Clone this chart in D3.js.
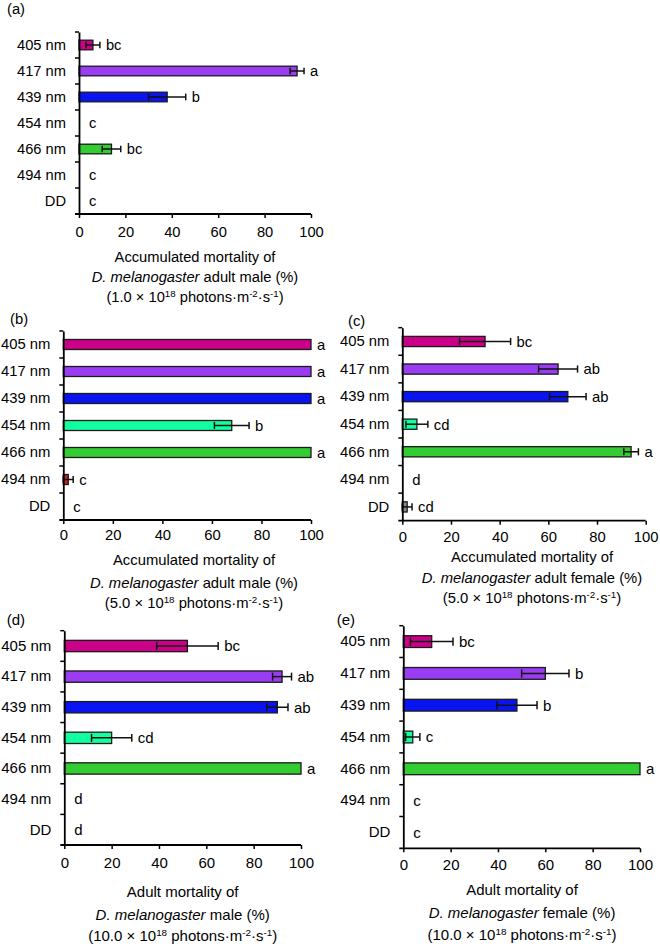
<!DOCTYPE html>
<html>
<head>
<meta charset="utf-8">
<script src="https://cdn.jsdelivr.net/npm/d3@7"></script>
<style>
  html, body { margin: 0; padding: 0; background: #fff; }
  svg { display: block; font-family: "Liberation Sans", Arial, sans-serif; }
</style>
</head>
<body>
<svg id="chart" width="660" height="944"></svg>
<script>
// ---------- data ----------
const categories = ["405 nm", "417 nm", "439 nm", "454 nm", "466 nm", "494 nm", "DD"];
const barColors = ["#CC0088", "#9A3CF2", "#0A14F0", "#11FF9E", "#33CC33", "#CC2222", "#8C8C8C"];
const xTicks = [0, 20, 40, 60, 80, 100];

// (a) 1.0e18, adult male
const aMean = [6, 94, 38, 0, 14, 0, 0];
const aErr = [3, 3, 8, 0, 4, 0, 0];
const aLetters = ["bc", "a", "b", "c", "bc", "c", "c"];
// (b) 5.0e18, adult male
const bMean = [100, 100, 100, 68, 100, 2, 0];
const bErr = [0, 0, 0, 7, 0, 2, 0];
const bLetters = ["a", "a", "a", "b", "a", "c", "c"];
// (c) 5.0e18, adult female
const cMean = [34, 64, 68, 6, 94, 0, 2];
const cErr = [10.5, 8, 7.5, 4.5, 3, 0, 2];
const cLetters = ["bc", "ab", "ab", "cd", "a", "d", "cd"];
// (d) 10.0e18, male
const dMean = [52, 92, 90, 20, 100, 0, 0];
const dErr = [13, 4, 4.5, 8.5, 0, 0, 0];
const dLetters = ["bc", "ab", "ab", "cd", "a", "d", "d"];
// (e) 10.0e18, female
const eMean = [12, 60, 48, 4, 100, 0, 0];
const eErr = [9, 10, 8.5, 3, 0, 0, 0];
const eLetters = ["bc", "b", "b", "c", "a", "c", "c"];

const titleLine1 = ["Accumulated mortality of", "Accumulated mortality of", "Accumulated mortality of", "Adult mortality of", "Adult mortality of"];
const titleLine2 = ["adult male (%)", "adult male (%)", "adult female (%)", "male (%)", "female (%)"];
const doseText = ["1.0", "5.0", "5.0", "10.0", "10.0"];
const panelTags = ["(a)", "(b)", "(c)", "(d)", "(e)"];

// ---------- layout (pixel geometry of each panel) ----------
const layouts = [
  { fs: 14.7, x0: 79,    x1: 311,   y0: 32,    y1: 214,   tickBase: 22.7, tb: [261.7, 282, 301.7], tc: 195,   tag: [7, 14] },
  { fs: 14.8, x0: 63.3,  x1: 311,   y0: 331,   y1: 520,   tickBase: 20,   tb: [565, 587.7, 608],   tc: 194,   tag: [10, 324] },
  { fs: 14.8, x0: 402.3, x1: 645.7, y0: 327.7, y1: 520.7, tickBase: 21,   tb: [561.7, 583.3, 603.3], tc: 532, tag: [348, 325.7] },
  { fs: 15,   x0: 64.3,  x1: 301,   y0: 630.7, y1: 845,   tickBase: 23.3, tb: [897.3, 920, 940.7], tc: 182.7, tag: [6.7, 625] },
  { fs: 15,   x0: 403.3, x1: 640,   y0: 625.7, y1: 848.3, tickBase: 21.7, tb: [895, 918.3, 940],   tc: 522,   tag: [336.7, 625] }
];

const means = [aMean, bMean, cMean, dMean, eMean];
const errs = [aErr, bErr, cErr, dErr, eErr];
const letters = [aLetters, bLetters, cLetters, dLetters, eLetters];

const svg = d3.select("#chart");

layouts.forEach((L, p) => {
  const FS = L.fs;
  const SUP = FS * 0.66;
  const g = svg.append("g");
  const x = d3.scaleLinear().domain([0, 100]).range([L.x0, L.x1]);
  const y = d3.scaleBand().domain(categories).range([L.y0, L.y1])
    .paddingInner(0.63).paddingOuter(0.315);
  const step = y.step();
  const rows = categories.map((c, i) => ({ c, v: means[p][i], e: errs[p][i], l: letters[p][i], col: barColors[i] }));

  // bars
  g.selectAll("rect.bar").data(rows.filter(d => d.v > 0)).join("rect")
    .attr("class", "bar")
    .attr("x", x(0))
    .attr("y", d => y(d.c))
    .attr("width", d => x(d.v) - x(0))
    .attr("height", y.bandwidth())
    .attr("fill", d => d.col)
    .attr("stroke", "#1a1a1a")
    .attr("stroke-width", 1.3);

  // error bars
  const capH = y.bandwidth() * 0.7;
  const eb = g.selectAll("g.err").data(rows.filter(d => d.e > 0)).join("g").attr("class", "err")
    .attr("stroke", "#111").attr("stroke-width", 1.5);
  eb.append("line")
    .attr("x1", d => x(d.v - d.e)).attr("x2", d => x(d.v + d.e))
    .attr("y1", d => y(d.c) + y.bandwidth() / 2).attr("y2", d => y(d.c) + y.bandwidth() / 2);
  eb.append("line")
    .attr("x1", d => x(d.v - d.e)).attr("x2", d => x(d.v - d.e))
    .attr("y1", d => y(d.c) + y.bandwidth() / 2 - capH / 2).attr("y2", d => y(d.c) + y.bandwidth() / 2 + capH / 2);
  eb.append("line")
    .attr("x1", d => x(d.v + d.e)).attr("x2", d => x(d.v + d.e))
    .attr("y1", d => y(d.c) + y.bandwidth() / 2 - capH / 2).attr("y2", d => y(d.c) + y.bandwidth() / 2 + capH / 2);

  // significance letters
  g.selectAll("text.sig").data(rows).join("text")
    .attr("class", "sig")
    .attr("x", d => Math.max(x(d.v + d.e) + 6, x(0) + 10))
    .attr("y", d => y(d.c) + y.bandwidth() / 2 + FS * 0.36)
    .attr("font-size", FS)
    .attr("fill", "#000")
    .text(d => d.l);

  // y axis (labels + line)
  const yAxis = g.append("g").attr("transform", `translate(${L.x0},0)`)
    .call(d3.axisLeft(y).tickSize(0).tickPadding(13));
  yAxis.select(".domain").attr("stroke", "#000").attr("stroke-width", 1.8);
  yAxis.selectAll("text").attr("font-size", FS).attr("fill", "#000")
    .attr("font-family", "'Liberation Sans', Arial, sans-serif");

  // boundary ticks on y axis
  g.selectAll("line.ytick").data(d3.range(categories.length)).join("line")
    .attr("class", "ytick")
    .attr("x1", L.x0 - 4).attr("x2", L.x0)
    .attr("y1", i => L.y0 + i * step).attr("y2", i => L.y0 + i * step)
    .attr("stroke", "#000").attr("stroke-width", 1.5);

  // x axis
  const xAxis = g.append("g").attr("transform", `translate(0,${L.y1})`)
    .call(d3.axisBottom(x).tickValues(xTicks).tickSizeInner(4).tickSizeOuter(0));
  xAxis.select(".domain").attr("stroke", "#000").attr("stroke-width", 1.8).attr("d", `M${L.x0 - 4},0H${L.x1}`);
  xAxis.selectAll(".tick line").attr("stroke", "#000").attr("stroke-width", 1.5);
  xAxis.selectAll(".tick text").attr("font-size", FS).attr("fill", "#000")
    .attr("font-family", "'Liberation Sans', Arial, sans-serif")
    .attr("dy", null).attr("y", L.tickBase);

  // axis title
  g.append("text").attr("x", L.tc).attr("y", L.tb[0]).attr("text-anchor", "middle").attr("font-size", FS)
    .text(titleLine1[p]);
  const t2 = g.append("text").attr("x", L.tc).attr("y", L.tb[1]).attr("text-anchor", "middle").attr("font-size", FS);
  t2.append("tspan").attr("font-style", "italic").text("D. melanogaster");
  t2.append("tspan").text(" " + titleLine2[p]);
  const t3 = g.append("text").attr("x", L.tc).attr("y", L.tb[2]).attr("text-anchor", "middle").attr("font-size", FS);
  t3.append("tspan").text(`(${doseText[p]} \u00D7 10`);
  t3.append("tspan").attr("font-size", SUP).attr("dy", -5).text("18");
  t3.append("tspan").attr("dy", 5).text(" photons\u00B7m");
  t3.append("tspan").attr("font-size", SUP).attr("dy", -5).text("-2");
  t3.append("tspan").attr("dy", 5).text("\u00B7s");
  t3.append("tspan").attr("font-size", SUP).attr("dy", -5).text("-1");
  t3.append("tspan").attr("dy", 5).text(")");

  // panel tag
  g.append("text").attr("x", L.tag[0]).attr("y", L.tag[1]).attr("font-size", FS).text(panelTags[p]);
});
</script>
</body>
</html>
